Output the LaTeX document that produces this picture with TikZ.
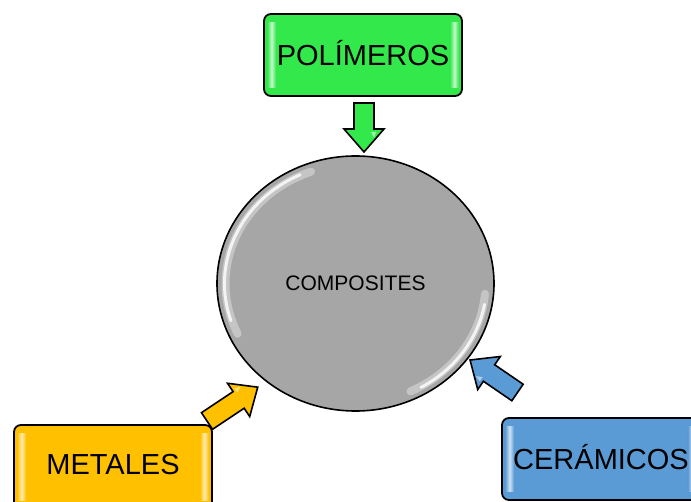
\documentclass[tikz,border=0pt]{standalone}
\usepackage{fontspec}
\setmainfont{Liberation Sans}
\usetikzlibrary{shapes.geometric}
\definecolor{cgreen}{RGB}{51,232,74}
\definecolor{corange}{RGB}{255,192,0}
\definecolor{cblue}{RGB}{91,155,213}
\definecolor{cgray}{RGB}{166,166,166}
\tikzset{
  boxstyle/.style={draw=black, line width=1.8pt, rounded corners=7pt, inner sep=0pt},
  boxtext/.style={font=\fontsize{29}{34}\selectfont, text height=20.8pt, text depth=0pt, inner sep=0pt},
  arrowshape/.style={draw=black, line width=1.6pt, line join=miter},
  glosswide/.style={white, opacity=0.35, line width=8pt, line cap=round},
  gloss/.style={white, opacity=0.8, line width=3pt, line cap=round}
}
\newcommand\glossstrips[3]{% node, color, height inset
  \shade[left color=#2, right color=#2, middle color=#2!30!white]
    ([xshift=4pt,yshift=-#3]#1.north west) rectangle ([xshift=13pt,yshift=#3]#1.south west);
  \shade[left color=#2, right color=#2, middle color=#2!30!white]
    ([xshift=-13pt,yshift=-#3]#1.north east) rectangle ([xshift=-4pt,yshift=#3]#1.south east);
}
\newcommand\blockarrow[6]{% x, y, angle, length, color, name
  \begin{scope}[shift={(#1,#2)}, rotate=#3]
    \coordinate (#6) at (0,0);
    \filldraw[arrowshape, fill=#5] (0,-10) -- ({#4-23},-10) -- ({#4-23},-20) -- (#4,0)
      -- ({#4-23},20) -- ({#4-23},10) -- (0,10) -- cycle;
    \fill[white, opacity=0.5] ({#4-20},12) -- ({#4-14},10) -- ({#4-20},7) -- cycle;
  \end{scope}
}
\begin{document}
\begin{tikzpicture}[x=1pt,y=1pt]
\useasboundingbox (0,0) rectangle (691,-502);
\clip (0,0) rectangle (691,-502);

% central ellipse
\node[ellipse, draw=black, line width=1.6pt, fill=cgray, minimum width=277pt, minimum height=255pt, inner sep=0pt] (comp) at (355.5,-283.5) {};
\draw[glosswide] (comp.center) ++(110:130 and 119) arc[start angle=110, end angle=205, x radius=130, y radius=119];
\draw[gloss] (comp.center) ++(115:131 and 120) arc[start angle=115, end angle=198, x radius=131, y radius=120];
\draw[glosswide] (comp.center) ++(-5:130 and 119) arc[start angle=-5, end angle=-65, x radius=130, y radius=119];
\draw[gloss] (comp.center) ++(-10:131 and 120) arc[start angle=-10, end angle=-60, x radius=131, y radius=120];
\node[font=\fontsize{21}{25}\selectfont, text height=15pt, text depth=0pt, inner sep=0pt] (compt) at (comp.center) {COMPOSITES};

% boxes
\node[boxstyle, fill=cgreen, minimum width=198pt, minimum height=82pt] (pol) at (363,-55) {};
\glossstrips{pol}{cgreen}{9pt}
\node[boxtext] (polt) at (pol.center) {POLÍMEROS};

\node[boxstyle, fill=corange, minimum width=198pt, minimum height=84pt] (met) at (113,-467) {};
\glossstrips{met}{corange}{9pt}
\node[boxtext] (mett) at (113,-464) {METALES};

\node[boxstyle, fill=cblue, minimum width=198pt, minimum height=82pt] (cer) at (601,-459) {};
\glossstrips{cer}{cblue}{9pt}
\node[boxtext] (cert) at (cer.center) {CERÁMICOS};

% block arrows
\blockarrow{364}{-103}{-90}{49}{cgreen}{ag}
\blockarrow{207}{-421}{33.7}{61}{corange}{ao}
\blockarrow{517.5}{-392.5}{145.6}{57.5}{cblue}{ab}
\end{tikzpicture}
\end{document}
